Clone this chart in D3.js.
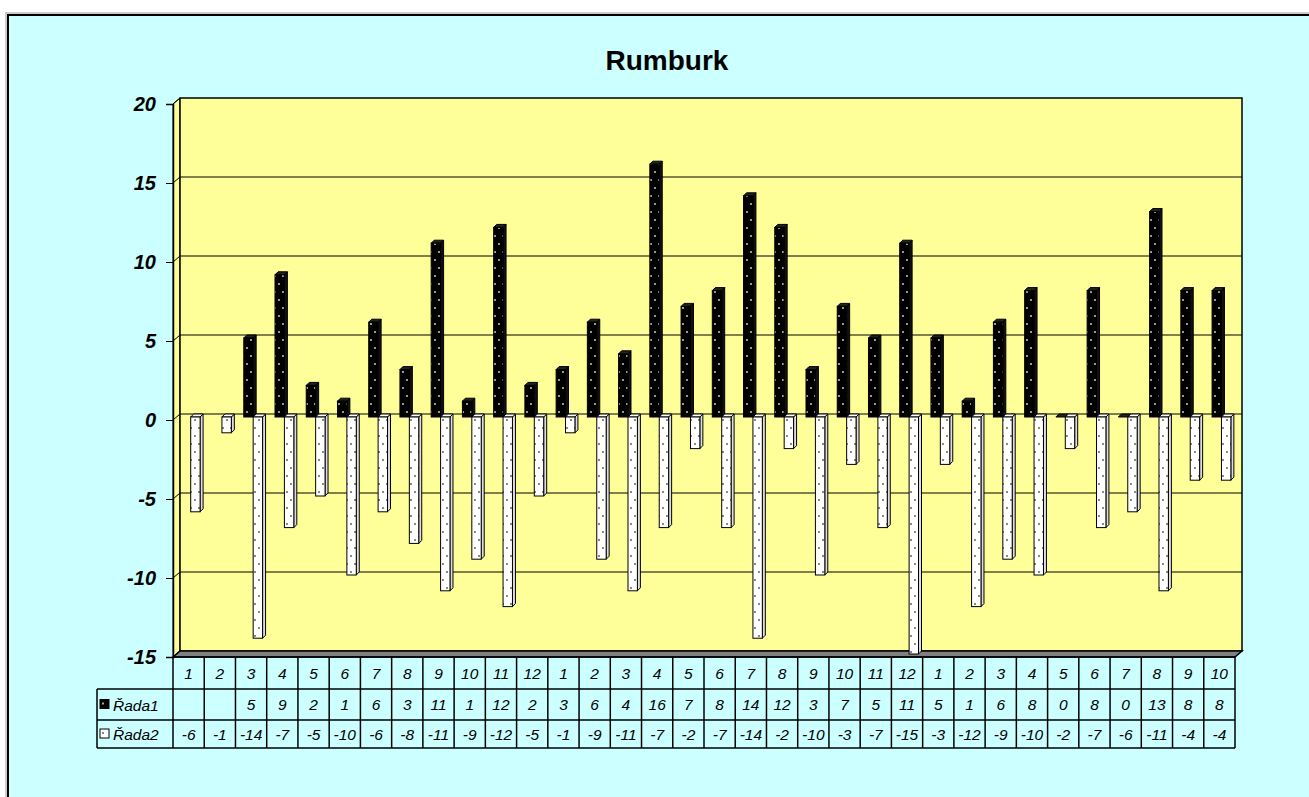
<!DOCTYPE html>
<html>
<head>
<meta charset="utf-8">
<script src="https://cdn.jsdelivr.net/npm/d3@7"></script>
<style>
  body { margin: 0; background: #fff; }
  svg { display: block; font-family: Arial, "Liberation Sans", sans-serif; }
</style>
</head>
<body>
<div id="chart"></div>
<script>
// data
const categories = ["1","2","3","4","5","6","7","8","9","10","11","12",
                    "1","2","3","4","5","6","7","8","9","10","11","12",
                    "1","2","3","4","5","6","7","8","9","10"];
const rada1 = [null,null,5,9,2,1,6,3,11,1,12,2, 3,6,4,16,7,8,14,12,3,7,5,11, 5,1,6,8,0,8,0,13,8,8];
const rada2 = [-6,-1,-14,-7,-5,-10,-6,-8,-11,-9,-12,-5, -1,-9,-11,-7,-2,-7,-14,-2,-10,-3,-7,-15, -3,-12,-9,-10,-2,-7,-6,-11,-4,-4];
const seriesNames = ["Řada1", "Řada2"];
const yTicks = [-15,-10,-5,0,5,10,15,20];

const W = 1309, H = 797;
const pL = 173, pR = 1235, pT = 104, pB = 657;
const dx = 7, dy = -6;      // depth of the walls
const bd = 3;               // depth of a bar

const svg = d3.select("#chart").append("svg")
    .attr("width", W).attr("height", H);

const defs = svg.append("defs");
const dark = defs.append("pattern").attr("id", "dotsDark")
    .attr("patternUnits", "userSpaceOnUse").attr("width", 8).attr("height", 16);
dark.append("rect").attr("width", 8).attr("height", 16).attr("fill", "#000");
dark.append("rect").attr("x", 2).attr("y", 3).attr("width", 2).attr("height", 2).attr("fill", "#999");
dark.append("rect").attr("x", 6).attr("y", 11).attr("width", 2).attr("height", 2).attr("fill", "#999");
const light = defs.append("pattern").attr("id", "dotsLight")
    .attr("patternUnits", "userSpaceOnUse").attr("width", 8).attr("height", 16);
light.append("rect").attr("width", 8).attr("height", 16).attr("fill", "#fff");
light.append("rect").attr("x", 2).attr("y", 3).attr("width", 2).attr("height", 2).attr("fill", "#888");
light.append("rect").attr("x", 6).attr("y", 11).attr("width", 2).attr("height", 2).attr("fill", "#888");

// chart area frame
svg.append("rect")
    .attr("x", 6).attr("y", 13).attr("width", W + 10).attr("height", H + 10)
    .attr("fill", "none").attr("stroke", "#999").attr("stroke-width", 1);
svg.append("rect")
    .attr("x", 8).attr("y", 15).attr("width", W + 10).attr("height", H + 10)
    .attr("fill", "#ccffff").attr("stroke", "#000").attr("stroke-width", 2);

svg.append("text")
    .attr("x", 667).attr("y", 70)
    .attr("text-anchor", "middle")
    .attr("font-size", 28).attr("font-weight", "bold")
    .text("Rumburk");

const x = d3.scaleBand().domain(d3.range(categories.length)).range([pL, pR]);
const xs = d3.scaleBand().domain(seriesNames).range([8.3, 27.1]);
const y = d3.scaleLinear().domain([-15, 20]).range([pB, pT]);

// walls
svg.append("polygon")
    .attr("points", [[pL, pT], [pL + dx, pT + dy], [pL + dx, pB + dy], [pL, pB]].join(" "))
    .attr("fill", "#ffff99").attr("stroke", "#000").attr("stroke-width", 1);
svg.append("rect")
    .attr("x", pL + dx).attr("y", pT + dy)
    .attr("width", pR - pL).attr("height", pB - pT)
    .attr("fill", "#ffff99").attr("stroke", "#000").attr("stroke-width", 1.5);
svg.append("polygon")
    .attr("points", [[pL, pB], [pL + dx, pB + dy], [pR + dx, pB + dy], [pR, pB]].join(" "))
    .attr("fill", "#808080").attr("stroke", "#000").attr("stroke-width", 1.5);

// gridlines on back wall and side wall
const grid = svg.append("g").attr("stroke", "#000").attr("stroke-width", 1);
yTicks.filter(v => v > -15 && v < 20).forEach(v => {
  grid.append("line")
      .attr("x1", pL + dx).attr("x2", pR + dx)
      .attr("y1", y(v) + dy).attr("y2", y(v) + dy);
});
yTicks.forEach(v => {
  grid.append("line")
      .attr("x1", pL).attr("x2", pL + dx)
      .attr("y1", y(v)).attr("y2", y(v) + dy);
});

// y axis
const yAxis = svg.append("g")
    .attr("transform", `translate(${pL},0)`)
    .call(d3.axisLeft(y).tickValues(yTicks).tickFormat(d => String(d)).tickSize(7).tickPadding(10));
yAxis.select(".domain").attr("stroke", "#000").attr("stroke-width", 1.5);
yAxis.selectAll(".tick line").attr("stroke", "#000");
yAxis.selectAll("text")
    .attr("font-size", 20).attr("font-weight", "bold").attr("font-style", "italic")
    .attr("font-family", "Arial, 'Liberation Sans', sans-serif").attr("fill", "#000");

// 3d bars
function bar3d(g, x0, w, v, front, side, topFill) {
  const y0 = y(0) - 3, yv = y(v) - 3;
  const t = Math.min(y0, yv), b = Math.max(y0, yv);
  g.append("polygon")
      .attr("points", [[x0 + w, t], [x0 + w + bd, t - bd], [x0 + w + bd, b - bd], [x0 + w, b]].join(" "))
      .attr("fill", side).attr("stroke", "#000").attr("stroke-width", 1);
  g.append("polygon")
      .attr("points", [[x0, t], [x0 + bd, t - bd], [x0 + w + bd, t - bd], [x0 + w, t]].join(" "))
      .attr("fill", topFill).attr("stroke", "#000").attr("stroke-width", 1);
  g.append("rect")
      .attr("x", x0).attr("y", t).attr("width", w).attr("height", b - t)
      .attr("fill", front).attr("stroke", "#000").attr("stroke-width", 1);
}

const bars = svg.append("g");
categories.forEach((c, i) => {
  if (rada1[i] !== null) {
    bar3d(bars, x(i) + xs("Řada1"), xs.bandwidth(), rada1[i], "url(#dotsDark)", "#111", "#222");
  }
  if (rada2[i] !== null) {
    bar3d(bars, x(i) + xs("Řada2"), xs.bandwidth(), rada2[i], "url(#dotsLight)", "#ddd", "#fff");
  }
});

// data table
const rowH = [pB, 689, 720, 748];
const legendLeft = 97;
const tbl = svg.append("g").attr("stroke", "#000").attr("stroke-width", 1.5);
tbl.append("line").attr("x1", pL).attr("x2", pR).attr("y1", rowH[0]).attr("y2", rowH[0]);
[1, 2, 3].forEach(r => {
  tbl.append("line").attr("x1", legendLeft).attr("x2", pR).attr("y1", rowH[r]).attr("y2", rowH[r]);
});
tbl.append("line").attr("x1", legendLeft).attr("x2", legendLeft).attr("y1", rowH[1]).attr("y2", rowH[3]);
x.domain().forEach(i => {
  tbl.append("line").attr("x1", x(i)).attr("x2", x(i)).attr("y1", rowH[0]).attr("y2", rowH[3]);
});
tbl.append("line").attr("x1", pR).attr("x2", pR).attr("y1", rowH[0]).attr("y2", rowH[3]);

const txt = svg.append("g")
    .attr("font-size", 15.5).attr("font-style", "italic")
    .attr("text-anchor", "middle").attr("fill", "#000");
categories.forEach((c, i) => {
  const cx = x(i) + x.bandwidth() / 2;
  txt.append("text").attr("x", cx).attr("y", 679).text(c);
  if (rada1[i] !== null) txt.append("text").attr("x", cx).attr("y", 710).text(rada1[i]);
  txt.append("text").attr("x", cx).attr("y", 740).text(rada2[i]);
});

// legend keys in the table
const keyY = [704.5, 734];
seriesNames.forEach((s, k) => {
  svg.append("rect")
      .attr("x", 100).attr("y", keyY[k] - 5).attr("width", 9).attr("height", 9)
      .attr("fill", k === 0 ? "#000" : "#fff").attr("stroke", "#000").attr("stroke-width", 1);
  svg.append("rect")
      .attr("x", 102).attr("y", keyY[k] - 2).attr("width", 2).attr("height", 2)
      .attr("fill", k === 0 ? "#aaa" : "#888");
  svg.append("text")
      .attr("x", 113).attr("y", keyY[k] + 6)
      .attr("font-size", 15.5).attr("font-style", "italic").attr("fill", "#000")
      .text(s);
});
</script>
</body>
</html>
